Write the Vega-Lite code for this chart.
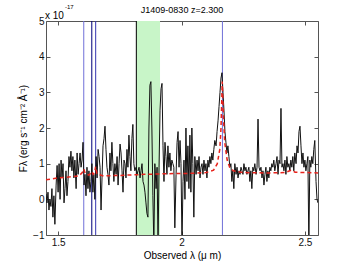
{
  "$schema": "https://vega.github.io/schema/vega-lite/v6.json",
  "width": 272,
  "height": 214,
  "autosize": "none",
  "padding": {"left": 46, "top": 21, "right": 34, "bottom": 30},
  "background": "white",
  "config": {
    "view": {"stroke": "#555", "strokeWidth": 1},
    "axis": {"grid": false, "domain": false, "labelFont": "Liberation Sans", "labelFontSize": 10, "labelColor": "#111", "titleFont": "Liberation Sans", "titleFontSize": 10, "titleFontWeight": "normal", "titleColor": "#000", "tickColor": "#555", "tickSize": -4, "labelPadding": 6}
  },
  "datasets": {
    "spec": [
      {"l":1.451,"f":0.15},{"l":1.455,"f":-0.1},{"l":1.459,"f":0.2},{"l":1.463,"f":-0.3},{"l":1.467,"f":0.0},{"l":1.471,"f":-0.2},{"l":1.475,"f":0.3},{"l":1.479,"f":-0.5},{"l":1.483,"f":0.1},{"l":1.487,"f":-0.7},
      {"l":1.492,"f":0.4},{"l":1.496,"f":0.95},{"l":1.500,"f":0.2},{"l":1.504,"f":1.0},{"l":1.508,"f":0.0},{"l":1.512,"f":1.1},{"l":1.516,"f":0.6},{"l":1.520,"f":1.0},{"l":1.524,"f":-0.1},{"l":1.528,"f":0.3},
      {"l":1.532,"f":0.8},{"l":1.536,"f":0.1},{"l":1.540,"f":0.5},{"l":1.544,"f":1.2},{"l":1.548,"f":0.9},{"l":1.552,"f":1.35},{"l":1.556,"f":0.8},{"l":1.560,"f":1.2},{"l":1.564,"f":0.6},{"l":1.568,"f":1.1},
      {"l":1.573,"f":0.3},{"l":1.577,"f":1.3},{"l":1.581,"f":0.7},{"l":1.585,"f":1.0},{"l":1.589,"f":1.3},{"l":1.593,"f":0.9},{"l":1.597,"f":1.1},{"l":1.601,"f":1.6},{"l":1.605,"f":0.4},{"l":1.609,"f":0.7},
      {"l":1.613,"f":0.1},{"l":1.617,"f":0.9},{"l":1.621,"f":0.3},{"l":1.625,"f":0.8},{"l":1.629,"f":0.2},{"l":1.633,"f":0.5},{"l":1.637,"f":1.0},{"l":1.641,"f":0.2},{"l":1.645,"f":0.7},{"l":1.649,"f":0.0},
      {"l":1.654,"f":1.2},{"l":1.658,"f":0.6},{"l":1.662,"f":1.4},{"l":1.666,"f":1.2},{"l":1.670,"f":0.9},{"l":1.674,"f":-0.3},{"l":1.678,"f":0.6},{"l":1.682,"f":1.5},{"l":1.686,"f":1.7},{"l":1.690,"f":2.05},
      {"l":1.694,"f":1.4},{"l":1.698,"f":0.9},{"l":1.702,"f":0.7},{"l":1.706,"f":0.4},{"l":1.710,"f":1.3},{"l":1.714,"f":0.8},{"l":1.718,"f":1.6},{"l":1.722,"f":1.0},{"l":1.726,"f":0.5},{"l":1.730,"f":1.0},
      {"l":1.735,"f":0.7},{"l":1.739,"f":1.2},{"l":1.743,"f":0.4},{"l":1.747,"f":1.0},{"l":1.751,"f":1.55},{"l":1.755,"f":1.3},{"l":1.759,"f":0.8},{"l":1.763,"f":0.2},{"l":1.767,"f":1.1},{"l":1.771,"f":1.0},
      {"l":1.775,"f":0.6},{"l":1.779,"f":1.4},{"l":1.783,"f":0.9},{"l":1.787,"f":1.8},{"l":1.791,"f":1.2},{"l":1.795,"f":0.8},{"l":1.799,"f":1.7},{"l":1.803,"f":2.1},{"l":1.807,"f":1.0},{"l":1.811,"f":0.8},
      {"l":1.816,"f":0.9},{"l":1.820,"f":0.7},{"l":1.824,"f":0.8},{"l":1.828,"f":0.9},{"l":1.832,"f":0.6},{"l":1.836,"f":0.8},{"l":1.840,"f":1.0},{"l":1.844,"f":0.5},{"l":1.848,"f":0.4},{"l":1.852,"f":0.2},
      {"l":1.856,"f":-0.1},{"l":1.860,"f":-0.4},{"l":1.864,"f":-0.5},{"l":1.868,"f":2.0},{"l":1.872,"f":3.2},{"l":1.876,"f":3.3},{"l":1.880,"f":2.0},{"l":1.884,"f":0.1},{"l":1.888,"f":-1.3},{"l":1.892,"f":1.0},
      {"l":1.897,"f":0.3},{"l":1.901,"f":0.9},{"l":1.905,"f":-1.3},{"l":1.909,"f":0.9},{"l":1.913,"f":2.5},{"l":1.917,"f":3.1},{"l":1.921,"f":3.25},{"l":1.925,"f":1.5},{"l":1.929,"f":0.5},{"l":1.933,"f":1.6},
      {"l":1.937,"f":1.2},{"l":1.941,"f":0.7},{"l":1.945,"f":1.5},{"l":1.949,"f":0.9},{"l":1.953,"f":1.3},{"l":1.957,"f":0.8},{"l":1.961,"f":1.1},{"l":1.965,"f":1.0},{"l":1.969,"f":0.9},{"l":1.973,"f":-0.8},
      {"l":1.978,"f":0.7},{"l":1.982,"f":1.6},{"l":1.986,"f":1.9},{"l":1.990,"f":0.9},{"l":1.994,"f":1.65},{"l":1.998,"f":1.0},{"l":2.002,"f":-1.3},{"l":2.006,"f":0.5},{"l":2.010,"f":1.1},{"l":2.014,"f":0.0},
      {"l":2.018,"f":2.0},{"l":2.022,"f":0.5},{"l":2.026,"f":1.5},{"l":2.030,"f":0.3},{"l":2.034,"f":1.8},{"l":2.038,"f":0.2},{"l":2.042,"f":2.0},{"l":2.046,"f":1.0},{"l":2.050,"f":-0.5},{"l":2.054,"f":1.2},
      {"l":2.059,"f":0.7},{"l":2.063,"f":1.1},{"l":2.067,"f":0.8},{"l":2.071,"f":1.2},{"l":2.075,"f":0.6},{"l":2.079,"f":0.9},{"l":2.083,"f":1.0},{"l":2.087,"f":0.7},{"l":2.091,"f":1.1},{"l":2.095,"f":0.8},
      {"l":2.099,"f":1.0},{"l":2.103,"f":0.6},{"l":2.107,"f":1.1},{"l":2.111,"f":0.9},{"l":2.115,"f":1.2},{"l":2.119,"f":1.0},{"l":2.123,"f":1.3},{"l":2.127,"f":1.1},{"l":2.131,"f":1.4},{"l":2.135,"f":1.65},
      {"l":2.140,"f":1.5},{"l":2.144,"f":1.9},{"l":2.148,"f":2.2},{"l":2.152,"f":2.6},{"l":2.156,"f":3.0},{"l":2.160,"f":3.4},{"l":2.164,"f":3.55},{"l":2.168,"f":3.0},{"l":2.172,"f":2.5},{"l":2.176,"f":1.9},
      {"l":2.180,"f":1.6},{"l":2.184,"f":1.3},{"l":2.188,"f":1.5},{"l":2.192,"f":1.2},{"l":2.196,"f":0.9},{"l":2.200,"f":1.0},{"l":2.204,"f":0.5},{"l":2.208,"f":0.8},{"l":2.212,"f":0.3},{"l":2.216,"f":1.0},
      {"l":2.221,"f":0.7},{"l":2.225,"f":0.9},{"l":2.229,"f":0.6},{"l":2.233,"f":0.8},{"l":2.237,"f":0.7},{"l":2.241,"f":0.9},{"l":2.245,"f":0.8},{"l":2.249,"f":0.7},{"l":2.253,"f":1.0},{"l":2.257,"f":0.8},
      {"l":2.261,"f":0.9},{"l":2.265,"f":0.7},{"l":2.269,"f":0.8},{"l":2.273,"f":0.9},{"l":2.277,"f":0.5},{"l":2.281,"f":0.8},{"l":2.285,"f":0.3},{"l":2.289,"f":0.9},{"l":2.293,"f":0.8},{"l":2.297,"f":1.0},
      {"l":2.302,"f":0.7},{"l":2.306,"f":0.9},{"l":2.310,"f":2.25},{"l":2.314,"f":0.9},{"l":2.318,"f":0.8},{"l":2.322,"f":0.9},{"l":2.326,"f":0.6},{"l":2.330,"f":0.8},{"l":2.334,"f":0.4},{"l":2.338,"f":0.7},
      {"l":2.342,"f":0.9},{"l":2.346,"f":0.5},{"l":2.350,"f":0.8},{"l":2.354,"f":0.6},{"l":2.358,"f":0.9},{"l":2.362,"f":0.8},{"l":2.366,"f":1.0},{"l":2.370,"f":0.9},{"l":2.374,"f":1.1},{"l":2.378,"f":0.8},
      {"l":2.383,"f":1.0},{"l":2.387,"f":1.2},{"l":2.391,"f":0.7},{"l":2.395,"f":1.1},{"l":2.399,"f":1.0},{"l":2.403,"f":2.55},{"l":2.407,"f":0.9},{"l":2.411,"f":1.0},{"l":2.415,"f":0.8},{"l":2.419,"f":1.1},
      {"l":2.423,"f":0.7},{"l":2.427,"f":1.2},{"l":2.431,"f":0.9},{"l":2.435,"f":1.0},{"l":2.439,"f":0.8},{"l":2.443,"f":1.1},{"l":2.447,"f":0.9},{"l":2.451,"f":1.2},{"l":2.455,"f":0.8},{"l":2.459,"f":1.3},
      {"l":2.464,"f":1.0},{"l":2.468,"f":1.5},{"l":2.472,"f":1.3},{"l":2.476,"f":1.9},{"l":2.480,"f":2.05},{"l":2.484,"f":1.5},{"l":2.488,"f":1.0},{"l":2.492,"f":1.3},{"l":2.496,"f":0.9},{"l":2.500,"f":1.1},
      {"l":2.504,"f":0.8},{"l":2.508,"f":1.0},{"l":2.512,"f":1.2},{"l":2.516,"f":-1.3},{"l":2.520,"f":1.1},{"l":2.524,"f":0.9},{"l":2.528,"f":1.2},{"l":2.532,"f":1.0},{"l":2.536,"f":1.4},{"l":2.540,"f":1.65},
      {"l":2.545,"f":0.5},{"l":2.549,"f":0.0},{"l":2.553,"f":-0.1}
    ],
    "model": [
      {"l":1.451,"f":0.55},{"l":1.50,"f":0.6},{"l":1.55,"f":0.63},{"l":1.585,"f":0.66},{"l":1.598,"f":0.75},{"l":1.604,"f":0.85},{"l":1.610,"f":0.72},{"l":1.625,"f":0.68},{"l":1.637,"f":0.78},{"l":1.642,"f":0.7},{"l":1.648,"f":0.75},{"l":1.652,"f":0.92},{"l":1.657,"f":0.72},{"l":1.68,"f":0.66},{"l":1.75,"f":0.67},{"l":1.85,"f":0.70},{"l":1.95,"f":0.72},{"l":2.05,"f":0.73},{"l":2.10,"f":0.75},{"l":2.13,"f":0.82},{"l":2.145,"f":1.0},{"l":2.155,"f":1.4},{"l":2.16,"f":2.0},{"l":2.165,"f":3.3},{"l":2.17,"f":2.3},{"l":2.175,"f":1.6},{"l":2.185,"f":1.1},{"l":2.195,"f":0.9},{"l":2.21,"f":0.8},{"l":2.25,"f":0.75},{"l":2.35,"f":0.74},{"l":2.42,"f":0.75},{"l":2.445,"f":0.82},{"l":2.46,"f":0.76},{"l":2.553,"f":0.74}
    ],
    "lines": [
      {"l":1.604,"c":"a"},{"l":1.6365,"c":"b"},{"l":1.6523,"c":"c"},{"l":2.1658,"c":"a"},{"l":1.817,"c":"k"}
    ],
    "band": [{"l1":1.817,"l2":1.913}],
    "note": [{"l":1.451,"f":5,"t":"x 10","s":"-17"}],
    "head": [{"l":2.002,"f":5,"t":"J1409-0830 z=2.300"}]
  },
  "layer": [
    {
      "data": {"name": "band"},
      "mark": {"type": "rect", "color": "#c8f5c8", "opacity": 1},
      "encoding": {
        "x": {"field": "l1", "type": "quantitative", "scale": {"domain": [1.451, 2.553], "nice": false, "zero": false}, "axis": null},
        "x2": {"field": "l2"}
      }
    },
    {
      "data": {"name": "lines"},
      "mark": {"type": "rule", "strokeWidth": 1},
      "encoding": {
        "x": {"field": "l", "type": "quantitative", "axis": null},
        "color": {"field": "c", "type": "nominal", "legend": null, "scale": {"domain": ["a","b","c","k"], "range": ["#7070d8","#00007a","#3434b0","#000000"]}}
      }
    },
    {
      "data": {"name": "spec"},
      "mark": {"type": "line", "color": "#111", "strokeWidth": 1, "clip": true},
      "encoding": {
        "x": {"field": "l", "type": "quantitative", "title": "Observed λ (μ m)", "axis": {"values": [1.5, 2, 2.5], "format": "~g", "orient": "bottom", "titlePadding": 3}},
        "y": {"field": "f", "type": "quantitative", "scale": {"domain": [-1, 5], "nice": false, "zero": false}, "title": "Fλ (erg s⁻¹ cm⁻² Å⁻¹)", "axis": {"values": [-1,0,1,2,3,4,5], "orient": "left", "titlePadding": 4}}
      }
    },
    {
      "data": {"name": "model"},
      "mark": {"type": "line", "color": "#e8231c", "strokeWidth": 1.5, "strokeDash": [4, 3], "clip": true},
      "encoding": {
        "x": {"field": "l", "type": "quantitative", "axis": {"orient": "top", "values": [1.5, 2, 2.5], "labels": false, "title": null}},
        "y": {"field": "f", "type": "quantitative", "axis": {"orient": "right", "values": [-1,0,1,2,3,4,5], "labels": false, "title": null}}
      }
    },
    {
      "data": {"name": "note"},
      "mark": {"type": "text", "align": "left", "baseline": "bottom", "font": "Liberation Sans", "fontSize": 10, "dx": -1},
      "encoding": {
        "x": {"field": "l", "type": "quantitative", "axis": null},
        "y": {"field": "f", "type": "quantitative", "axis": null},
        "text": {"field": "t"}
      }
    },
    {
      "data": {"name": "note"},
      "mark": {"type": "text", "align": "left", "baseline": "bottom", "font": "Liberation Sans", "fontSize": 6, "dx": 19, "dy": -11},
      "encoding": {
        "x": {"field": "l", "type": "quantitative", "axis": null},
        "y": {"field": "f", "type": "quantitative", "axis": null},
        "text": {"field": "s"}
      }
    },
    {
      "data": {"name": "head"},
      "mark": {"type": "text", "align": "center", "baseline": "alphabetic", "font": "Liberation Sans", "fontSize": 9, "dy": -8},
      "encoding": {
        "x": {"field": "l", "type": "quantitative", "axis": null},
        "y": {"field": "f", "type": "quantitative", "axis": null},
        "text": {"field": "t"}
      }
    }
  ],
  "resolve": {"axis": {"x": "independent", "y": "independent"}}
}
